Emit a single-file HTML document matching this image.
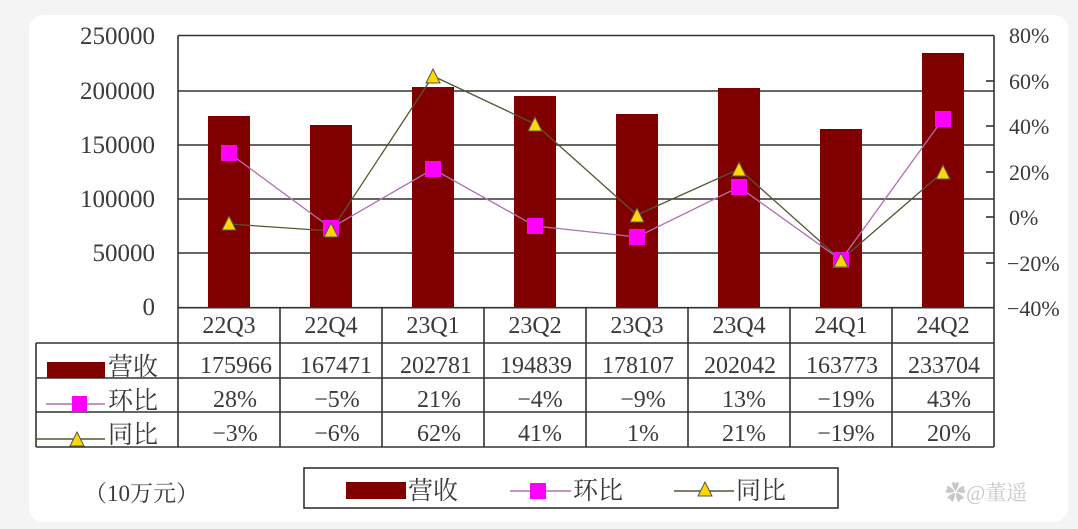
<!DOCTYPE html>
<html><head><meta charset="utf-8"><style>
html,body{margin:0;padding:0;background:#f4f4f4;}
svg{display:block;}
text{font-family:"Liberation Serif","Noto Serif CJK SC",serif;fill:#3a3a3a;}
</style></head><body>
<svg width="1078" height="529" viewBox="0 0 1078 529" xmlns="http://www.w3.org/2000/svg">
<rect x="29" y="15" width="1039" height="507" rx="14" fill="#fff"/>
<g stroke="#333" stroke-width="1.6">
<line x1="178" y1="35.5" x2="994" y2="35.5"/>
<line x1="178" y1="91" x2="994" y2="91"/>
<line x1="178" y1="145" x2="994" y2="145"/>
<line x1="178" y1="199" x2="994" y2="199"/>
<line x1="178" y1="253" x2="994" y2="253"/>
<line x1="178" y1="35.5" x2="178" y2="447"/>
<line x1="994" y1="35.5" x2="994" y2="447"/>
<line x1="994" y1="81" x2="986" y2="81"/><line x1="994" y1="126" x2="986" y2="126"/><line x1="994" y1="172" x2="986" y2="172"/><line x1="994" y1="217" x2="986" y2="217"/><line x1="994" y1="263" x2="986" y2="263"/>
</g>
<g fill="#800000">
<rect x="208" y="116" width="42" height="192"/>
<rect x="310" y="125" width="42" height="183"/>
<rect x="412" y="87" width="42" height="221"/>
<rect x="514" y="96" width="42" height="212"/>
<rect x="616" y="114" width="42" height="194"/>
<rect x="718" y="88" width="42" height="220"/>
<rect x="820" y="129" width="42" height="179"/>
<rect x="922" y="53" width="42" height="255"/>
</g>
<polyline points="229,224 331,231 433,76 535,124 637,215 739,169 841,260 943,172" fill="none" stroke="#555533" stroke-width="1.3"/>
<polyline points="229,153 331,228 433,169 535,226 637,237 739,187 841,260 943,119" fill="none" stroke="#b070b0" stroke-width="1.3"/>
<g fill="#ff00ff">
<rect x="221" y="145" width="16" height="16"/><rect x="323" y="220" width="16" height="16"/><rect x="425" y="161" width="16" height="16"/><rect x="527" y="218" width="16" height="16"/><rect x="629" y="229" width="16" height="16"/><rect x="731" y="179" width="16" height="16"/><rect x="833" y="252" width="16" height="16"/><rect x="935" y="111" width="16" height="16"/>
</g>
<g fill="#ffd700" stroke="#555" stroke-width="1">
<path d="M229 216 L236 230 L222 230Z"/><path d="M331 223 L338 237 L324 237Z"/><path d="M433 69 L440 83 L426 83Z"/><path d="M535 117 L542 131 L528 131Z"/><path d="M637 208 L644 222 L630 222Z"/><path d="M739 162 L746 176 L732 176Z"/><path d="M841 253 L848 267 L834 267Z"/><path d="M943 165 L950 179 L936 179Z"/>
</g>
<g stroke="#333" stroke-width="1.6">
<line x1="178" y1="307.7" x2="994" y2="307.7"/>
<line x1="36" y1="343" x2="994" y2="343"/>
<line x1="36" y1="378" x2="994" y2="378"/>
<line x1="36" y1="412" x2="994" y2="412"/>
<line x1="36" y1="447" x2="994" y2="447"/>
<line x1="36" y1="343" x2="36" y2="447"/>
<line x1="280" y1="308" x2="280" y2="447"/><line x1="382" y1="308" x2="382" y2="447"/><line x1="484" y1="308" x2="484" y2="447"/><line x1="586" y1="308" x2="586" y2="447"/><line x1="688" y1="308" x2="688" y2="447"/><line x1="790" y1="308" x2="790" y2="447"/><line x1="892" y1="308" x2="892" y2="447"/>
</g>
<g font-size="25" text-anchor="end">
<text x="155" y="44">250000</text><text x="155" y="99">200000</text><text x="155" y="153">150000</text><text x="155" y="207">100000</text><text x="155" y="261">50000</text><text x="155" y="315">0</text>
</g>
<g font-size="22">
<text x="1009" y="43">80%</text><text x="1009" y="89">60%</text><text x="1009" y="134">40%</text><text x="1009" y="180">20%</text><text x="1009" y="225">0%</text><text x="1007" y="271">−20%</text><text x="1007" y="316">−40%</text>
</g>
<g font-size="24" text-anchor="middle">
<text x="229" y="333">22Q3</text><text x="331" y="333">22Q4</text><text x="433" y="333">23Q1</text><text x="535" y="333">23Q2</text><text x="637" y="333">23Q3</text><text x="739" y="333">23Q4</text><text x="841" y="333">24Q1</text><text x="943" y="333">24Q2</text>
<text x="236" y="373">175966</text><text x="336" y="373">167471</text><text x="436" y="373">202781</text><text x="536" y="373">194839</text><text x="638" y="373">178107</text><text x="740" y="373">202042</text><text x="842" y="373">163773</text><text x="944" y="373">233704</text>
<text x="235" y="407">28%</text><text x="337" y="407">−5%</text><text x="439" y="407">21%</text><text x="540" y="407">−4%</text><text x="643" y="407">−9%</text><text x="744" y="407">13%</text><text x="846" y="407">−19%</text><text x="949" y="407">43%</text>
<text x="235" y="441">−3%</text><text x="337" y="441">−6%</text><text x="439" y="441">62%</text><text x="540" y="441">41%</text><text x="643" y="441">1%</text><text x="744" y="441">21%</text><text x="846" y="441">−19%</text><text x="949" y="441">20%</text>
</g>
<rect x="47" y="362" width="58" height="16" fill="#800000"/>
<line x1="46" y1="404" x2="105" y2="404" stroke="#b070b0" stroke-width="1.5"/>
<rect x="72" y="396" width="15" height="15" fill="#ff00ff"/>
<line x1="37" y1="439" x2="105" y2="439" stroke="#555533" stroke-width="1.5"/>
<path d="M77 432 L84 446 L70 446Z" fill="#ffd700" stroke="#555"/>
<g font-size="25"><text x="108" y="375">营收</text><text x="108" y="409">环比</text><text x="108" y="443">同比</text></g>
<text x="84" y="501" font-size="23">（10万元）</text>
<rect x="304" y="468" width="534" height="40" fill="none" stroke="#333" stroke-width="1.6"/>
<rect x="346" y="482" width="60" height="17" fill="#800000"/>
<text x="408" y="499" font-size="25">营收</text>
<line x1="510" y1="491" x2="571" y2="491" stroke="#b070b0" stroke-width="1.5"/>
<rect x="530" y="483" width="16" height="16" fill="#ff00ff"/>
<text x="573" y="499" font-size="25">环比</text>
<line x1="674" y1="491" x2="734" y2="491" stroke="#555533" stroke-width="1.5"/>
<path d="M705 482 L712 496 L698 496Z" fill="#ffd700" stroke="#555"/>
<text x="736" y="499" font-size="25">同比</text>
<text x="945" y="500" font-size="21" style="fill:#c8c8c8">✿@董遥</text>
</svg>
</body></html>
